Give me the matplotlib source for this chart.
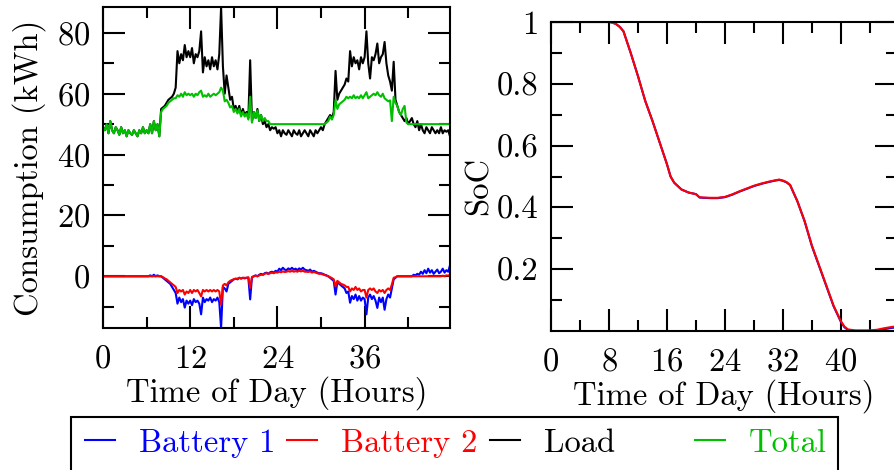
import numpy as np
import matplotlib
matplotlib.use("Agg")
import matplotlib.pyplot as plt
from matplotlib.patches import Rectangle
from matplotlib.ticker import MultipleLocator, FixedLocator, FuncFormatter

plt.rcParams['font.family'] = ['cmr10', 'DejaVu Serif']
plt.rcParams['mathtext.fontset'] = 'cm'
plt.rcParams['axes.unicode_minus'] = False
plt.rcParams['axes.formatter.use_mathtext'] = True

# ---- data (15-minute resolution, hours 0 .. 47.75) ----
hours = [i * 0.25 for i in range(192)]

load = [
    49, 48, 50, 47, 51, 48, 47, 49,
    48, 46.5, 49, 47, 48, 46, 48, 47,
    46.5, 48, 47, 46, 48, 47, 49, 47,
    48, 47, 50, 47, 51, 48, 50, 46,
    55, 55.5, 56, 57, 58, 58.5, 59, 60,
    62, 74, 70, 73, 71, 76, 72, 74,
    72, 75, 70, 73, 72, 74, 80.5, 67,
    72, 69, 71, 68, 72, 69, 71, 68,
    73, 88.5, 69, 60, 66, 62, 58, 59,
    55, 56, 54, 56, 53, 55, 53, 54,
    52, 71, 51, 54, 52, 55, 51, 53,
    50, 51, 49, 50, 48, 49, 48.5, 49,
    47, 48, 46, 48, 47, 46.5, 48, 47,
    46, 48, 47, 46.5, 48, 46, 47, 48,
    47, 46, 48, 47, 46, 48, 47, 48,
    49, 48, 50, 51, 52, 53, 52, 54,
    67.5, 58, 60, 61, 62, 63, 65, 64,
    74, 69, 72, 70, 71, 68, 72, 70,
    72, 80.5, 70, 65, 72, 71, 73, 76.5,
    70, 72, 73, 77, 70, 66, 64, 61,
    70.5, 58, 56, 54, 53, 52, 51, 52,
    50, 51, 52, 50, 49, 51, 48, 50,
    48, 47, 49, 48, 47, 49, 48, 47,
    48, 47, 49, 47, 48, 47.5, 48, 46,
]

total = [
    49, 48, 50, 47, 51, 48, 47, 49,
    48, 46.5, 49, 47, 48, 46, 48, 47,
    46.5, 48, 47, 46, 48, 47, 49, 47,
    48, 47, 50, 47, 51, 48, 50, 46,
    54, 55, 55.5, 56, 57, 57.5, 58, 58.5,
    58.5, 59.5, 59, 60, 59, 60.5, 59.5, 60,
    59.5, 60, 59, 60, 59.5, 60.5, 61, 59,
    59.5, 59, 60, 59, 59.5, 60, 59.5, 60,
    60.5, 62, 61, 57.5, 58, 57, 55.5, 56,
    54, 55, 53.5, 55, 52.5, 54, 52.5, 53.5,
    51.5, 59, 50.5, 54, 52, 54.5, 51, 53,
    51, 52, 51, 51, 50, 50, 50, 50,
    50, 50, 50, 50, 50, 50, 50, 50,
    50, 50, 50, 50, 50, 50, 50, 50,
    50, 50, 50, 50, 50, 50, 50, 50,
    50, 50, 50, 50.5, 51, 52.5, 51.5, 53,
    58, 55, 56.5, 57, 57.5, 58, 59, 58.5,
    59, 58.5, 59.5, 58.5, 59, 58.5, 59.5, 58.5,
    59.5, 60.5, 58.5, 59, 59.5, 60, 59.5, 60.5,
    59.5, 59, 60, 58.5, 58, 57.5, 57.8, 51,
    59, 57, 56, 54, 53, 55, 56, 50.5,
    50, 50, 50, 50, 50, 50, 50, 50,
    50, 50, 50, 50, 50, 50, 50, 50,
    50, 50, 50, 50, 50, 50, 50, 50,
]

battery1 = [
    0, 0, 0, 0, 0, 0, 0, 0,
    0, 0, 0, 0, 0, 0, 0, 0,
    0, 0, 0, 0, 0, 0, 0, 0,
    0, 0, 0.3, 0, 0.5, 0, 0.3, 0,
    0, -0.5, -1, -1.5, -2, -2.5, -3.5, -4.5,
    -5.5, -9, -7, -8.5, -7.5, -10.3, -8, -9,
    -8, -9.5, -7.5, -8.5, -8, -9, -12.5, -7,
    -8.5, -7.5, -8, -7, -8.5, -7.5, -8, -7,
    -8.5, -17, -3.5, -4, -5, -2.5, -2, -1.5,
    -1, -0.8, -1, -0.5, -0.8, -0.5, -0.7, -0.5,
    -0.5, -7.6, -0.3, 0, 0.3, 0, 0.5, 0.8,
    0.5, 1, 1.2, 0.8, 1.3, 1.5, 1.2, 1.8,
    1.5, 2.5, 2, 2.8, 2.2, 2, 2.6, 2.2,
    2.8, 2.2, 2.5, 2, 2.6, 2.2, 2.8, 2.2,
    2, 1.8, 2.2, 1.5, 1.8, 1.5, 1.2, 1,
    1, 0.8, 0.5, 0.3, 0, -0.5, -1, -1.5,
    -6, -2, -2.5, -3, -3.5, -4, -5.5, -5,
    -8.7, -6.5, -7.5, -6, -8, -6.5, -8, -7,
    -7.5, -12.5, -7, -6, -7.5, -6.5, -8, -10.4,
    -7, -8.5, -7, -11, -7.5, -6, -7, -4,
    -1, -0.5, 0, 0, 0, 0, 0, 0,
    0, 0, 0, 0.5, 0.3, 0.8, 0.5, 1.5,
    0.8, 2, 1, 2.5, 1.2, 2, 0.8, 1.5,
    2.2, 1, 1.5, 2.5, 1.2, 2, 1.5, 3.6,
]

battery2 = [
    0, 0, 0, 0, 0, 0, 0, 0,
    0, 0, 0, 0, 0, 0, 0, 0,
    0, 0, 0, 0, 0, 0, 0, 0,
    0, 0, 0, 0, 0, 0, 0, 0,
    0, -0.3, -0.7, -1, -1.5, -2, -2.5, -3,
    -3.5, -5.5, -4.5, -5, -4.5, -6, -5, -5.5,
    -4.5, -5.5, -4.5, -5, -4.5, -5.5, -6.6, -4.5,
    -5, -4.5, -5, -4.5, -5, -4.5, -5, -4.5,
    -5, -9.3, -3, -2.5, -3, -2, -1.5, -1.2,
    -1, -0.8, -0.8, -0.5, -0.6, -0.5, -0.5, -0.5,
    -0.3, -3.8, -0.3, 0, 0.2, 0, 0.3, 0.5,
    0.5, 0.8, 1, 0.8, 1, 1.2, 1, 1.3,
    1.2, 1.5, 1.3, 1.6, 1.4, 1.5, 1.7, 1.5,
    1.8, 1.5, 1.7, 1.5, 1.8, 1.6, 1.8, 1.5,
    1.5, 1.4, 1.6, 1.2, 1.4, 1.2, 1, 0.8,
    0.8, 0.6, 0.4, 0.2, 0, -0.3, -0.6, -1,
    -3.3, -1.5, -2, -2.5, -2.7, -3, -3.5, -3.5,
    -5, -4, -4.5, -3.5, -4.5, -4, -5, -4.5,
    -4.5, -7, -4.5, -4, -4.5, -4, -5, -5.5,
    -4.5, -5, -4.5, -5.5, -4.5, -4, -4.5, -2.7,
    -0.5, -0.3, 0, 0, 0, 0, 0, 0,
    0, 0, 0, 0, 0, 0, 0, 0,
    0, 0, 0, 0, 0, 0, 0, 0,
    0, 0, 0, 0.2, 0, 0.3, 0.2, 0.5,
]

soc_hours = [0, 1, 2, 3, 4, 5, 6, 7, 8, 8.5, 9, 9.5, 10, 11, 12, 13, 14, 15, 16,
             16.5, 17, 18, 19, 20, 20.5, 21, 22, 23, 24, 25, 26, 27, 28, 29, 30,
             31, 31.5, 32, 32.5, 33, 34, 35, 36, 37, 38, 39, 40, 40.5, 41, 42,
             43, 44, 45, 46, 47, 47.75]
soc_battery1 = [1, 1, 1, 1, 1, 1, 1, 1, 1, 0.998, 0.993, 0.984, 0.97, 0.90, 0.825,
                0.745, 0.68, 0.61, 0.54, 0.5, 0.48, 0.458, 0.448, 0.443, 0.432,
                0.431, 0.430, 0.430, 0.433, 0.441, 0.451, 0.460, 0.469, 0.476,
                0.482, 0.487, 0.489, 0.486, 0.481, 0.472, 0.42, 0.355, 0.275,
                0.21, 0.145, 0.08, 0.03, 0.012, 0.003, 0, 0, 0, 0.002, 0.006,
                0.010, 0.012]
soc_battery2 = [1, 1, 1, 1, 1, 1, 1, 1, 1, 0.998, 0.993, 0.984, 0.97, 0.90, 0.825,
                0.745, 0.68, 0.61, 0.54, 0.5, 0.48, 0.458, 0.448, 0.443, 0.433,
                0.432, 0.431, 0.431, 0.434, 0.442, 0.452, 0.461, 0.470, 0.477,
                0.483, 0.488, 0.490, 0.487, 0.482, 0.473, 0.42, 0.356, 0.277,
                0.212, 0.147, 0.082, 0.032, 0.014, 0.005, 0.002, 0.002, 0.002,
                0.004, 0.009, 0.013, 0.015]

labels = ["Battery 1", "Battery 2", "Load", "Total"]
colors = ["#0000ff", "#ff0000", "#000000", "#00c000"]

FS = 23.5
W, H = 895, 470
fig = plt.figure(figsize=(W / 100, H / 100), dpi=100)

def px_axes(l, t, r, b):
    return [l / W, 1 - b / H, (r - l) / W, (b - t) / H]

ax1 = fig.add_axes(px_axes(103, 7, 450, 328))
ax2 = fig.add_axes(px_axes(551, 22, 897, 331))

lw = 1.5
h1, = ax1.plot(hours, battery1, color=colors[0], lw=lw)
h2, = ax1.plot(hours, battery2, color=colors[1], lw=lw)
h3, = ax1.plot(hours, load, color=colors[2], lw=lw)
h4, = ax1.plot(hours, total, color=colors[3], lw=lw)

ax2.plot(soc_hours, soc_battery1, color=colors[0], lw=lw)
ax2.plot(soc_hours, soc_battery2, color=colors[1], lw=lw)

ax1.set_xlim(0, 47.75)
ax1.set_ylim(-17, 88.5)
ax2.set_xlim(0, 47.75)
ax2.set_ylim(0, 1)

ax1.xaxis.set_major_locator(MultipleLocator(12))
ax1.xaxis.set_minor_locator(MultipleLocator(6))
ax1.yaxis.set_major_locator(MultipleLocator(20))
ax1.yaxis.set_minor_locator(MultipleLocator(10))

ax2.xaxis.set_major_locator(MultipleLocator(8))
ax2.xaxis.set_minor_locator(MultipleLocator(4))
ax2.yaxis.set_major_locator(FixedLocator([0.2, 0.4, 0.6, 0.8, 1.0]))
ax2.yaxis.set_minor_locator(FixedLocator([0.1, 0.3, 0.5, 0.7, 0.9]))
ax2.yaxis.set_major_formatter(FuncFormatter(lambda v, p: "%g" % v))

for ax in (ax1, ax2):
    ax.tick_params(which='both', direction='in', top=True, right=True,
                   labelsize=FS, width=1.5, colors='black')
    ax.tick_params(which='major', length=16)
    ax.tick_params(which='minor', length=8)
    ax.tick_params(axis='x', which='major', pad=12)
    ax.tick_params(axis='y', which='major', pad=9)
    for s in ax.spines.values():
        s.set_linewidth(1.5)
    ax.set_xlabel("Time of Day (Hours)", fontsize=FS, labelpad=2)

ax1.set_ylabel("Consumption (kWh)", fontsize=FS)
ax1.yaxis.set_label_coords(-0.165, 0.498)
ax2.set_ylabel("SoC", fontsize=FS)
ax2.yaxis.set_label_coords(-0.167, 0.47)

# legend frame
fig.add_artist(Rectangle((71 / W, -0.1), (838 - 71) / W, 0.1 + 1 - 417 / H,
                         transform=fig.transFigure, fill=False, lw=1.5,
                         edgecolor='black', clip_on=False))
handles = [h1, h2, h3, h4]
xstarts = [85, 287, 490, 695]
for hnd, lab, xs in zip(handles, labels, xstarts):
    fig.legend(handles=[hnd], labels=[lab], loc='center left',
               bbox_to_anchor=(xs / W, 1 - 443 / H), frameon=False,
               fontsize=FS, handlelength=0.92, handletextpad=0.72,
               borderpad=0, borderaxespad=0, labelcolor='linecolor')

fig.savefig("out.png", dpi=100)
